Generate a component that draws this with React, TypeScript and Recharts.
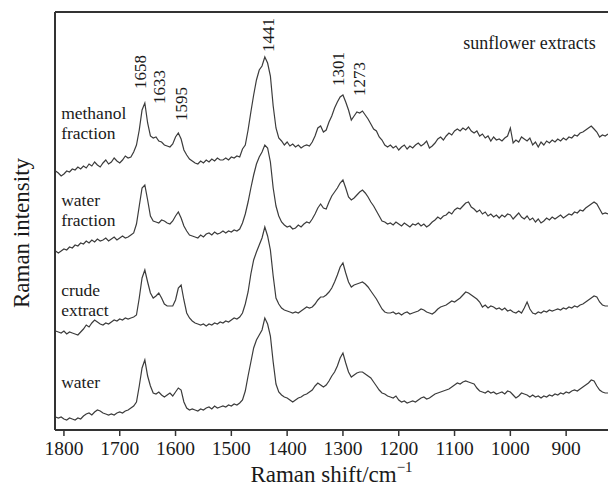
import { LineChart, Line, XAxis, YAxis, ReferenceLine, ReferenceDot } from "recharts";

// Raman shift grid, cm-1 (step 5, high to low)
const shifts: number[] = [];
for (let w = 1815; w >= 825; w -= 5) shifts.push(w);

// intensities (arbitrary units, traces already offset)
const methanol = [
  257, 255, 252, 254, 257, 256, 259, 258, 261, 259,
  262, 260, 264, 262, 266, 263, 261, 265, 268, 264,
  266, 270, 267, 265, 268, 272, 270, 271, 276, 283,
  298, 318, 325, 305, 292, 290, 291, 287, 286, 283,
  282, 281, 284, 291, 295, 289, 278, 273, 269, 267,
  265, 264, 267, 265, 268, 266, 269, 267, 270, 268,
  268, 270, 268, 271, 270, 272, 271, 279, 283, 298,
  316, 333, 348, 358, 362, 371, 365, 352, 322, 300,
  290, 287, 283, 286, 282, 284, 281, 283, 280, 282,
  283, 282, 286, 292, 300, 302, 296, 298, 306, 312,
  320, 326, 331, 333, 326, 318, 308, 312, 316, 315,
  317, 313, 309, 304, 299, 297, 291, 288, 283, 281,
  283, 280, 282, 278, 281, 283, 279, 282, 280, 283,
  285, 282, 284, 287, 280, 282, 285, 289, 291, 288,
  292, 295, 293, 297, 299, 297, 300, 298, 301, 297,
  295, 297, 292, 294, 290, 292, 287, 291, 288, 289,
  287, 290, 292, 300, 285, 288, 286, 291, 289, 287,
  290, 283, 286, 281, 286, 283, 287, 285, 288, 286,
  289, 287, 290, 288, 291, 290, 293, 292, 295, 296,
  298, 300, 302, 299, 296, 291, 293, 292, 294,
];

const waterFraction = [
  177, 175, 177, 179, 178, 181, 180, 183, 182, 185,
  184, 187, 185, 188, 186, 189, 187, 188, 190, 187,
  189, 191, 188, 190, 192, 190, 191, 193, 195, 204,
  222, 240, 243, 228, 212, 207, 206, 205, 208, 207,
  205, 204, 207, 212, 216, 210, 202, 197, 193, 192,
  191, 190, 193, 191, 194, 195, 193, 196, 194, 195,
  197, 195, 197, 196, 198, 197, 199, 205, 214, 226,
  240, 253, 264, 271, 276, 283, 280, 266, 240, 222,
  212, 206, 203, 201, 202, 199, 200, 203, 201, 204,
  206, 205, 209, 214, 220, 224, 220, 219, 226, 232,
  236, 240, 245, 248, 240, 231, 228, 230, 233, 236,
  238, 235, 231, 226, 222, 217, 212, 207, 206, 204,
  205, 203, 206, 204, 202, 205, 203, 201, 204, 203,
  205, 202, 204, 201, 203, 206, 208, 211, 209, 212,
  213, 216, 214, 218, 220, 219, 222, 225, 226, 221,
  219, 216, 218, 214, 216, 212, 214, 211, 213, 210,
  213, 211, 214, 213, 209, 212, 215, 211, 209, 212,
  208, 210, 206, 209, 205, 207, 210, 208, 211, 209,
  211, 213, 210, 212, 214, 213, 216, 215, 218, 217,
  220, 222, 224, 226, 224, 219, 214, 215, 214,
];

const crudeExtract = [
  97, 96, 95, 97, 94, 96, 95, 94, 93, 96,
  99, 103, 101, 105, 108, 106, 104, 103, 105, 104,
  106, 108, 107, 109, 108, 110, 109, 110, 111, 113,
  130, 150, 158, 146, 135, 130, 132, 135, 130, 124,
  122, 122, 122, 128, 140, 143, 128, 115, 110, 107,
  105, 104, 103, 104, 102, 104, 103, 105, 104, 106,
  105, 107, 106, 108, 110, 109, 111, 115, 124, 136,
  154, 168, 176, 183, 190, 201, 192, 178, 152, 130,
  124, 120, 118, 117, 116, 115, 116, 115, 117, 119,
  121, 120, 121, 124, 128, 131, 131, 133, 136, 140,
  146, 153, 161, 165, 155, 146, 141, 143, 144, 145,
  146, 144, 141, 137, 133, 129, 124, 119, 116, 115,
  115, 116, 114, 115, 113, 115, 116, 114, 115, 116,
  117, 119, 118, 116, 115, 114, 116, 119, 121, 122,
  123, 125, 127, 126, 128, 130, 133, 136, 135, 133,
  131, 129, 126, 121, 123, 120, 122, 121, 119, 120,
  118, 120, 117, 118, 116, 115, 117, 115, 120, 126,
  119, 115, 114, 116, 115, 117, 116, 118, 117, 118,
  119, 118, 120, 119, 121, 120, 122, 121, 123, 124,
  126, 128, 130, 132, 131, 126, 123, 122, 122,
];

const water = [
  11, 10, 11, 9, 8, 10, 9, 8, 10, 9,
  12, 14, 15, 13, 16, 18, 17, 15, 14, 13,
  14, 13, 15, 16, 15, 17, 18, 20, 22, 26,
  42, 60, 68, 52, 42, 35, 34, 36, 33, 31,
  33, 35, 32, 36, 40, 38, 26, 20, 18, 19,
  18, 17, 19, 18, 20, 21, 19, 22, 20, 21,
  22, 21, 23, 22, 24, 23, 25, 28, 37, 52,
  66, 80, 88, 93, 98, 110, 104, 92, 66, 44,
  36, 33, 31, 30, 28, 26, 28, 30, 31, 33,
  34, 36, 38, 42, 45, 43, 41, 43, 47, 52,
  56, 62, 70, 75, 65, 56, 51, 53, 55, 56,
  56, 54, 52, 50, 46, 42, 38, 35, 34, 32,
  31, 30, 32, 28, 26, 27, 25, 26, 27, 26,
  28, 30, 31, 29, 30, 32, 34, 35, 36, 37,
  38, 39, 41, 43, 45, 44, 46, 47, 46, 45,
  44, 40, 37, 36, 35, 37, 35, 36, 34, 35,
  36, 34, 37, 36, 33, 30, 32, 35, 34, 33,
  31, 33, 31, 32, 30, 32, 31, 33, 32, 34,
  33, 35, 34, 36, 35, 37, 38, 37, 39, 41,
  43, 45, 48, 47, 42, 38, 36, 35, 35,
];

const xTicks = [1800, 1700, 1600, 1500, 1400, 1300, 1200, 1100, 1000, 900];
const peaks = [1658, 1633, 1595, 1441, 1301, 1273];

// label placement (data units) - kept apart from the values above
const peakPos = [
  { h: 356, dx: -3 },
  { h: 341, dx: 2 },
  { h: 324, dx: 3 },
  { h: 393, dx: 4 },
  { h: 359, dx: -4 },
  { h: 349, dx: 1 },
];
const traceLabels = [
  { lines: ["methanol", "fraction"], h: 309 },
  { lines: ["water", "fraction"], h: 222 },
  { lines: ["crude", "extract"], h: 132 },
  { lines: ["water"], h: 40 },
];

const data = shifts.map((s, i) => ({
  shift: s,
  methanol: methanol[i],
  waterFraction: waterFraction[i],
  crude: crudeExtract[i],
  water: water[i],
}));

const FONT = "'Liberation Serif', 'Times New Roman', serif";
const INK = "#3c3c3c";
const AXIS = "#333";
const TEXT = "#1a1a1a";

export default function App() {
  return (
    <div style={{ position: "absolute", left: 0, top: 0, background: "white" }}>
      <LineChart width={608} height={489} data={data} margin={{ top: 12, right: 0, bottom: 0, left: 0 }}>
        <XAxis
          dataKey="shift" type="number" reversed domain={[825, 1816]} allowDataOverflow
          ticks={xTicks} interval={0} height={59}
          axisLine={{ stroke: AXIS, strokeWidth: 2 }}
          tickLine={{ stroke: AXIS, strokeWidth: 1.5 }} tickSize={6} tickMargin={5}
          tick={{ fontSize: 19.5, fill: TEXT, fontFamily: FONT }}
          label={{
            content: ({ viewBox }: any) => (
              <text x={viewBox.x + viewBox.width / 2} y={482} textAnchor="middle"
                fontSize={23} fill={TEXT} fontFamily={FONT}>
                Raman shift/cm<tspan dy={-10} fontSize={15}>−1</tspan>
              </text>
            ),
          }}
        />
        <YAxis
          type="number" domain={[-2, 416]} allowDataOverflow width={55}
          tick={false} tickLine={false}
          axisLine={{ stroke: AXIS, strokeWidth: 2 }}
          label={{
            content: () => (
              <text x={21} y={233} transform="rotate(-90 21 233)" textAnchor="middle"
                dominantBaseline="central" fontSize={23} fill={TEXT} fontFamily={FONT}>
                Raman intensity
              </text>
            ),
          }}
        />
        <ReferenceLine y={416} stroke={AXIS} strokeWidth={2} />

        <Line dataKey="methanol" stroke={INK} strokeWidth={1.2} dot={false} isAnimationActive={false} />
        <Line dataKey="waterFraction" stroke={INK} strokeWidth={1.2} dot={false} isAnimationActive={false} />
        <Line dataKey="crude" stroke={INK} strokeWidth={1.2} dot={false} isAnimationActive={false} />
        <Line dataKey="water" stroke={INK} strokeWidth={1.2} dot={false} isAnimationActive={false} />

        {peaks.map((p, i) => (
          <ReferenceDot key={p} x={p} y={peakPos[i].h} r={0} ifOverflow="visible"
            shape={(props: any) => {
              const cx = props.cx + peakPos[i].dx, cy = props.cy;
              return (
                <text x={cx} y={cy} transform={`rotate(-90 ${cx} ${cy})`} textAnchor="middle"
                  dominantBaseline="central" fontSize={17} fill={TEXT} fontFamily={FONT}>{p}</text>
              );
            }} />
        ))}

        {traceLabels.map((t) => (
          <ReferenceDot key={t.lines.join(" ") + t.h} x={1805} y={t.h} r={0} ifOverflow="visible"
            shape={(props: any) => (
              <text x={props.cx} y={props.cy} fontSize={17.5} fill={TEXT} fontFamily={FONT}>
                {t.lines.map((ln, j) => (
                  <tspan key={j} x={props.cx} dy={j === 0 ? 0 : 19.5}>{ln}</tspan>
                ))}
              </text>
            )} />
        ))}

        <ReferenceDot x={847} y={379} r={0} ifOverflow="visible"
          shape={(props: any) => (
            <text x={props.cx} y={props.cy} textAnchor="end" fontSize={18} fill={TEXT} fontFamily={FONT}>
              sunflower extracts
            </text>
          )} />
      </LineChart>
    </div>
  );
}
